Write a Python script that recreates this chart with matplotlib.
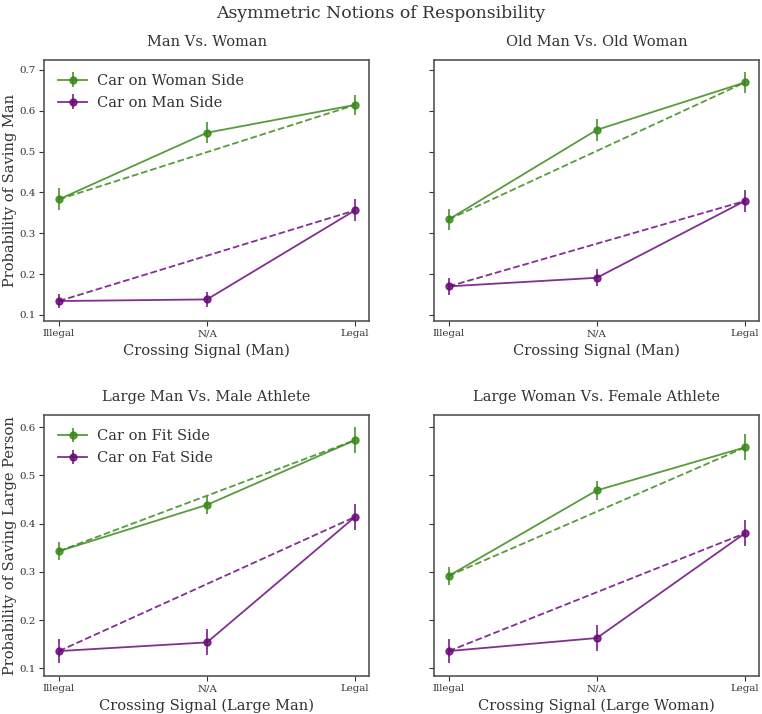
import matplotlib
matplotlib.use("Agg")
import matplotlib.pyplot as plt
import numpy as np

plt.rcParams['font.family'] = ['DejaVu Serif']

signals = ["Illegal", "N/A", "Legal"]
titles = ["Man Vs. Woman", "Old Man Vs. Old Woman",
          "Large Man Vs. Male Athlete", "Large Woman Vs. Female Athlete"]
xlabels = ["Crossing Signal (Man)", "Crossing Signal (Man)",
           "Crossing Signal (Large Man)", "Crossing Signal (Large Woman)"]
ylabels = ["Probability of Saving Man", "Probability of Saving Large Person"]
legend_labels = [["Car on Woman Side", "Car on Man Side"],
                 ["Car on Fit Side", "Car on Fat Side"]]

green_vals = [[0.383, 0.546, 0.614], [0.334, 0.553, 0.669],
              [0.343, 0.439, 0.573], [0.292, 0.469, 0.558]]
green_err = [[0.027, 0.026, 0.025], [0.026, 0.027, 0.026],
             [0.019, 0.019, 0.027], [0.019, 0.019, 0.027]]
purple_vals = [[0.134, 0.138, 0.356], [0.170, 0.191, 0.379],
               [0.136, 0.154, 0.414], [0.136, 0.163, 0.380]]
purple_err = [[0.018, 0.019, 0.027], [0.020, 0.021, 0.026],
              [0.025, 0.027, 0.027], [0.025, 0.027, 0.027]]

row_ylim = [(0.085, 0.724), (0.084, 0.625)]

GREEN = '#3b8a1c'
PURPLE = '#6c0c7c'
TXT = '#333333'

fig, axes = plt.subplots(2, 2, figsize=(7.62, 7.14), dpi=100, sharey='row')
fig.subplots_adjust(left=0.058, right=0.996, top=0.916, bottom=0.053, hspace=0.36, wspace=0.2)

x = np.arange(len(signals))
for i, ax in enumerate(axes.flat):
    r, c = divmod(i, 2)
    g = green_vals[i]
    p = purple_vals[i]
    ax.errorbar(x, g, yerr=green_err[i], color=GREEN, marker='o', ms=5,
                lw=1.3, elinewidth=1.3, alpha=0.85, label=legend_labels[r][0])
    ax.errorbar(x, p, yerr=purple_err[i], color=PURPLE, marker='o', ms=5,
                lw=1.3, elinewidth=1.3, alpha=0.85, label=legend_labels[r][1])
    ax.plot([x[0], x[-1]], [g[0], g[-1]], ls='--', color=GREEN, lw=1.3, alpha=0.85)
    ax.plot([x[0], x[-1]], [p[0], p[-1]], ls='--', color=PURPLE, lw=1.3, alpha=0.85)
    ax.set_xticks(x)
    ax.set_xticklabels(signals)
    ax.set_xlim(-0.1, 2.095)
    ax.set_ylim(*row_ylim[r])
    ax.set_title(titles[i], fontsize=10.5, color=TXT, pad=10)
    ax.set_xlabel(xlabels[i], fontsize=10.5, color=TXT, labelpad=4)
    ax.tick_params(labelsize=7.4, colors=TXT, length=3.5, pad=2.5)
    ax.tick_params(axis='y', labelleft=(c == 0))
    for s in ax.spines.values():
        s.set_color('#555555')
        s.set_linewidth(1.2)
    if c == 0:
        ax.set_ylabel(ylabels[r], fontsize=10.5, color=TXT, labelpad=2)
        ax.legend(loc='upper left', fontsize=10.5, frameon=False,
                  handlelength=2.0, handletextpad=0.7,
                  borderaxespad=0.55, labelspacing=0.55, labelcolor=TXT)

fig.suptitle("Asymmetric Notions of Responsibility", fontsize=12.4, color=TXT, y=0.993)
fig.savefig("out.png", dpi=100)
